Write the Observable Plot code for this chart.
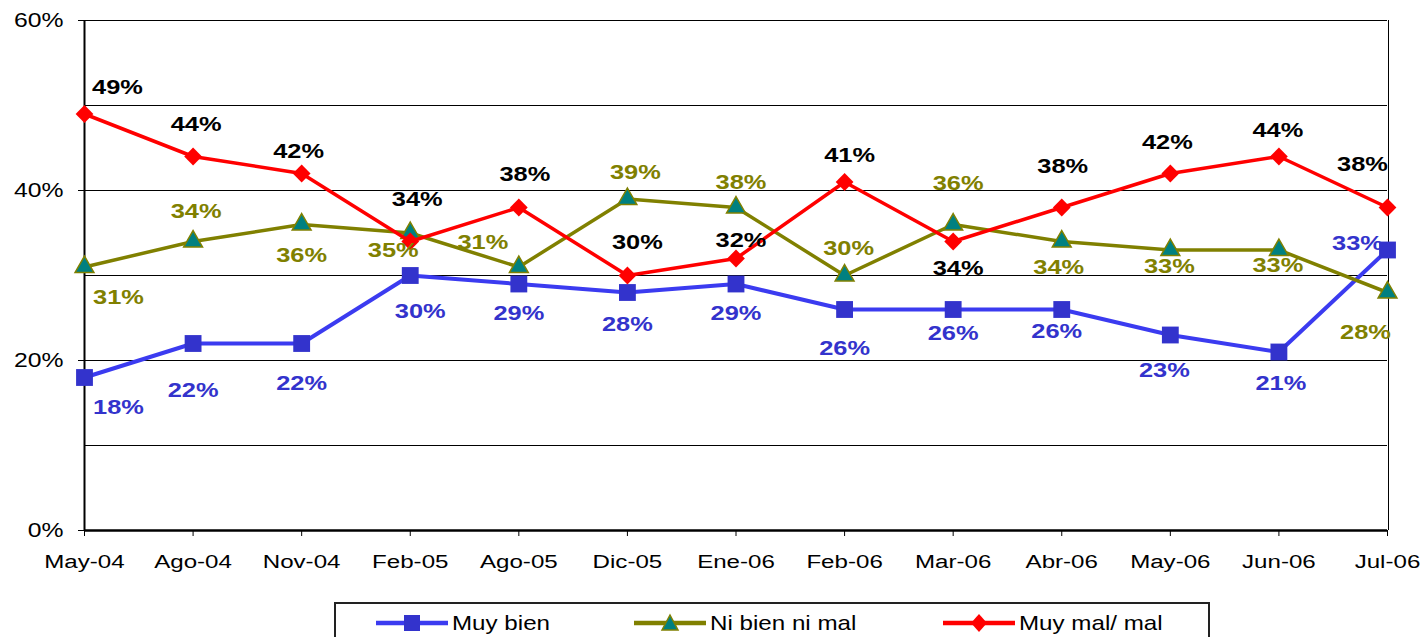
<!DOCTYPE html>
<html>
<head>
<meta charset="utf-8">
<script src="https://cdn.jsdelivr.net/npm/d3@7"></script>
<script src="https://cdn.jsdelivr.net/npm/@observablehq/plot@0.6"></script>
<style>
  html, body { margin: 0; padding: 0; background: #fff; }
  #wrap { position: relative; width: 1423px; height: 637px; overflow: hidden; }
  #legend {
    position: absolute; left: 334px; top: 602px; width: 872px; height: 50px;
    border: 2px solid #222; background: #fff;
    font-family: "Liberation Sans", Arial, sans-serif;
    font-size: 21px; color: #000;
  }
  .item { position: absolute; top: 7px; display: flex; align-items: center; }
  .item svg { display: block; margin-right: 4px; }
  .item span { display: inline-block; transform: scaleX(1.15); transform-origin: 0 50%; white-space: nowrap; }
</style>
</head>
<body>
<div id="wrap">
  <div id="chart"></div>
  <div id="legend"></div>
</div>
<script>
const months = ["May-04","Ago-04","Nov-04","Feb-05","Ago-05","Dic-05","Ene-06","Feb-06","Mar-06","Abr-06","May-06","Jun-06","Jul-06"];
const muyBien = [18,22,22,30,29,28,29,26,26,26,23,21,33];
const niBienNiMal = [31,34,36,35,31,39,38,30,36,34,33,33,28];
const muyMal = [49,44,42,34,38,30,32,41,34,38,42,44,38];
const seriesNames = ["Muy bien","Ni bien ni mal","Muy mal/ mal"];
const yTicks = [0,20,40,60];
const yGrid = [10,20,30,40,50,60];

// label offsets in pixels [dx, dy] (layout only)
const offMuyBien = [[34,30],[0,47],[0,40],[10,36],[0,30],[0,32],[0,30],[0,39],[0,24],[-5,22],[-6,36],[2,32],[-30,-6]];
const offNiBien = [[34,31],[3,-30],[0,31],[-17,18],[-36,-24],[8,-26],[5,-25],[4,-27],[5,-41],[-3,26],[-1,17],[-1,16],[-22,40]];
const offMuyMal = [[33,-26],[3,-32],[-3,-22],[7,-42],[6,-33],[10,-33],[5,-18],[5,-26],[5,27],[1,-41],[-3,-31],[-1,-26],[-25,-43]];

const colBlue = "#3333CC", colBlueLine = "#3b3bf0";
const colOlive = "#808000", colTeal = "#008080";
const colRed = "#FF0000";

const rows = (vals) => months.map((m, i) => ({month: m, value: vals[i]}));
const dBlue = rows(muyBien), dOlive = rows(niBienNiMal), dRed = rows(muyMal);

function labelMarks(data, offs, color) {
  return data.map((d, i) => Plot.text([d], {
    x: "month", y: "value", text: d => d.value + "%",
    dx: offs[i][0], dy: offs[i][1],
    fill: color, fontWeight: "bold", fontSize: 20
  }));
}

const chart = Plot.plot({
  width: 1423, height: 598,
  marginLeft: 84, marginRight: 36, marginTop: 20, marginBottom: 68,
  x: {type: "point", domain: months, padding: 0, round: false},
  y: {domain: [0, 60]},
  style: {fontFamily: "'Liberation Sans', Arial, sans-serif", background: "#fff", color: "#000"},
  marks: [
    Plot.ruleY(yGrid, {stroke: "#000", strokeWidth: 1}),
    Plot.ruleX([months[months.length - 1]], {stroke: "#000", strokeWidth: 1, dx: 1}),
    Plot.axisY({ticks: yTicks, tickFormat: d => d + "%", tickSize: 6, tickPadding: 15, fontSize: 19.5, label: null}),
    Plot.axisX({tickSize: 6, tickPadding: 18, fontSize: 19, label: null}),
    Plot.ruleX([months[0]], {stroke: "#000", strokeWidth: 2}),
    Plot.ruleY([0], {stroke: "#000", strokeWidth: 2.5}),
    Plot.line(dBlue, {x: "month", y: "value", stroke: colBlueLine, strokeWidth: 4}),
    Plot.dot(dBlue, {x: "month", y: "value", symbol: "square", r: 9.5, fill: colBlue, stroke: "none"}),
    Plot.line(dOlive, {x: "month", y: "value", stroke: colOlive, strokeWidth: 3.5}),
    Plot.dot(dOlive, {x: "month", y: "value", symbol: "triangle", r: 7, fill: colTeal, stroke: colOlive, strokeWidth: 1.5}),
    Plot.line(dRed, {x: "month", y: "value", stroke: colRed, strokeWidth: 3.5}),
    Plot.dot(dRed, {x: "month", y: "value", symbol: "diamond2", r: 8, fill: colRed, stroke: "none"}),
    ...labelMarks(dBlue, offMuyBien, colBlue),
    ...labelMarks(dOlive, offNiBien, colOlive),
    ...labelMarks(dRed, offMuyMal, "#000")
  ]
});
document.getElementById("chart").appendChild(chart);

// widen glyphs horizontally (the reference text is stretched), keeping each text anchor in place
const SX = 1.27;
chart.querySelectorAll("text").forEach(t => {
  const bb = t.getBBox();
  const anchor = getComputedStyle(t).textAnchor;
  const ax = anchor === "middle" ? bb.x + bb.width / 2 : anchor === "end" ? bb.x + bb.width : bb.x;
  const tr = t.getAttribute("transform") || "";
  t.setAttribute("transform", `${tr} translate(${ax},0) scale(${SX},1) translate(${-ax},0)`);
});

// legend
const legend = document.getElementById("legend");
const legendItems = [
  {name: seriesNames[0], left: 40, line: colBlueLine, sym: "square", fill: colBlue, stroke: "none"},
  {name: seriesNames[1], left: 298, line: colOlive, sym: "triangle", fill: colTeal, stroke: colOlive},
  {name: seriesNames[2], left: 607, line: colRed, sym: "diamond", fill: colRed, stroke: "none"}
];
legendItems.forEach(it => {
  const div = document.createElement("div");
  div.className = "item";
  div.style.left = it.left + "px";
  let symbol;
  if (it.sym === "square") symbol = `<rect x="28" y="4" width="16" height="16" fill="${it.fill}"/>`;
  else if (it.sym === "triangle") symbol = `<path d="M36,4 L44,19 L28,19 Z" fill="${it.fill}" stroke="${it.stroke}" stroke-width="1.5"/>`;
  else symbol = `<path d="M36,3 L44,12 L36,21 L28,12 Z" fill="${it.fill}"/>`;
  div.innerHTML = `<svg width="72" height="24"><line x1="0" y1="12" x2="72" y2="12" stroke="${it.line}" stroke-width="4.5"/>${symbol}</svg><span>${it.name}</span>`;
  legend.appendChild(div);
});
</script>
</body>
</html>
